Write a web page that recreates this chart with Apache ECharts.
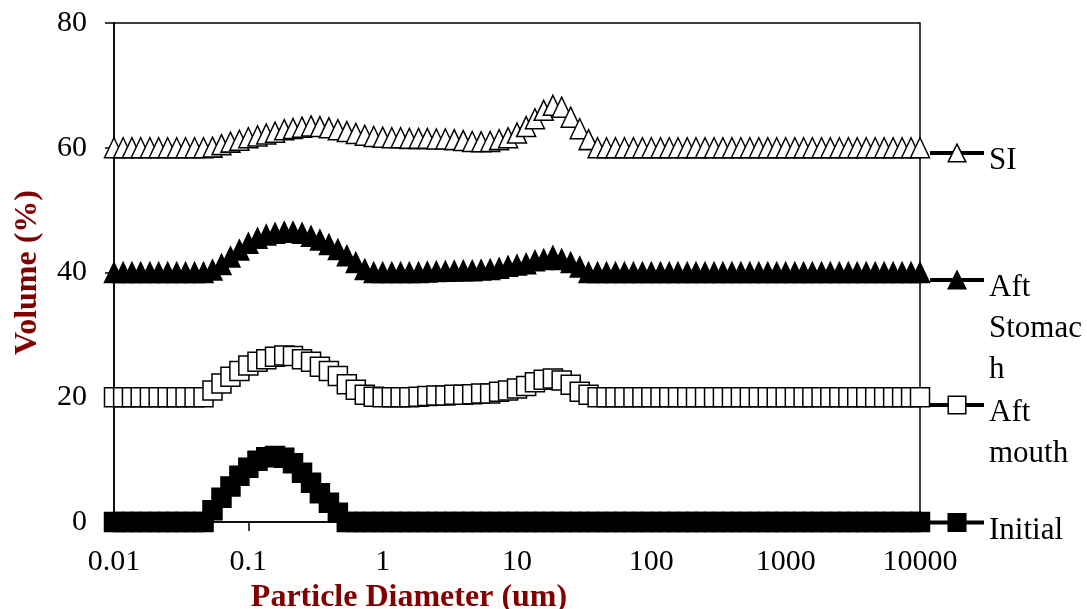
<!DOCTYPE html>
<html><head><meta charset="utf-8">
<script src="https://cdn.jsdelivr.net/npm/echarts@6/dist/echarts.min.js"></script>
<style>html,body{margin:0;padding:0;background:#fff}#c{width:1087px;height:609px}</style>
</head><body><div id="c"></div>
<script>
// Particle diameter bins (um), 15 per decade
const diameters = [
  0.01,0.0117,0.0136,0.0158,0.0185,0.0215,0.0251,0.0293,0.0341,0.0398,0.0464,0.0541,0.0631,0.0736,0.0858,
  0.1,0.117,0.136,0.158,0.185,0.215,0.251,0.293,0.341,0.398,0.464,0.541,0.631,0.736,0.858,
  1,1.17,1.36,1.58,1.85,2.15,2.51,2.93,3.41,3.98,4.64,5.41,6.31,7.36,8.58,
  10,11.7,13.6,15.8,18.5,21.5,25.1,29.3,34.1,39.8,46.4,54.1,63.1,73.6,85.8,
  100,117,136,158,185,215,251,293,341,398,464,541,631,736,858,
  1000,1170,1360,1580,1850,2150,2510,2930,3410,3980,4640,5410,6310,7360,8580,
  10000
];
// Volume (%) as plotted
const initialVol = [
  0,0,0,0,0,0,0,0,0,0,0,1.9,3.9,5.7,7.4,
  8.7,9.8,10.4,10.6,10.3,9.4,7.9,6.3,4.6,3.1,1.5,0,0,0,0,
  0,0,0,0,0,0,0,0,0,0,0,0,0,0,0,
  0,0,0,0,0,0,0,0,0,0,0,0,0,0,0,
  0,0,0,0,0,0,0,0,0,0,0,0,0,0,0,
  0,0,0,0,0,0,0,0,0,0,0,0,0,0,0,
  0
];
const aftMouthVol = [
  20,20,20,20,20,20,20,20,20,20,20,21.1,22.2,23.3,24.2,
  25.1,25.7,26.1,26.5,26.7,26.6,26.1,25.7,24.9,24.2,23.4,22.1,21.2,20.4,20.1,
  20,20,20,20,20.1,20.2,20.3,20.3,20.4,20.4,20.5,20.6,20.6,20.9,21.1,
  21.4,21.8,22.4,22.8,23.0,22.7,22.0,20.9,20.4,20,20,20,20,20,20,
  20,20,20,20,20,20,20,20,20,20,20,20,20,20,20,
  20,20,20,20,20,20,20,20,20,20,20,20,20,20,20,
  20
];
const aftStomachVol = [
  40,40,40,40,40,40,40,40,40,40,40,40.4,41.3,42.5,43.6,
  44.7,45.5,46.0,46.3,46.5,46.5,46.3,45.8,45.2,44.5,43.7,42.7,41.6,40.5,40,
  40,40,40,40,40,40.1,40.15,40.2,40.25,40.3,40.3,40.4,40.5,40.7,41.0,
  41.2,41.4,41.9,42.1,42.6,42.1,41.6,40.9,40,40,40,40,40,40,40,
  40,40,40,40,40,40,40,40,40,40,40,40,40,40,40,
  40,40,40,40,40,40,40,40,40,40,40,40,40,40,40,
  40
];
const siVol = [
  60,60,60,60,60,60,60,60,60,60,60,60.1,60.5,60.9,61.2,
  61.6,61.9,62.2,62.5,62.9,63.1,63.3,63.5,63.4,63.2,62.9,62.6,62.3,62.0,61.8,
  61.7,61.6,61.6,61.5,61.5,61.5,61.4,61.4,61.3,61.15,61.0,60.95,61.0,61.3,61.6,
  62.35,63.4,64.65,66.0,66.8,66.5,64.9,63.05,61.3,60,60,60,60,60,60,
  60,60,60,60,60,60,60,60,60,60,60,60,60,60,60,
  60,60,60,60,60,60,60,60,60,60,60,60,60,60,60,
  60
];
const seriesNames = ['Initial', 'Aft mouth', 'Aft Stomach', 'SI'];
// legend text as wrapped in the reference
const legendLines = {
  'Initial': ['Initial'],
  'Aft mouth': ['Aft', 'mouth'],
  'Aft Stomach': ['Aft', 'Stomac', 'h'],
  'SI': ['SI']
};
const xTickLabels = ['0.01','0.1','1','10','100','1000','10000'];
const yTickLabels = ['0','20','40','60','80'];

const FONT = 'Liberation Serif';
const TITLE_RED = '#800000';
const LEG_LH = 41;
const valuesByName = {
  'Initial': initialVol, 'Aft mouth': aftMouthVol, 'Aft Stomach': aftStomachVol, 'SI': siVol
};
const styleByName = {
  'Initial':     {symbol: 'rect',     size: 19,       fill: '#000', iconY: 522.5},
  'Aft mouth':   {symbol: 'rect',     size: 19,       fill: '#fff', iconY: 405},
  'Aft Stomach': {symbol: 'triangle', size: [19, 20], fill: '#000', iconY: 280},
  'SI':          {symbol: 'triangle', size: [19, 20], fill: '#fff', iconY: 153}
};

const series = seriesNames.map(name => {
  const st = styleByName[name];
  const vals = valuesByName[name];
  return {
    name: name,
    type: 'line',
    data: diameters.map((d, i) => [d, vals[i]]),
    symbol: st.symbol,
    symbolSize: st.size,
    showSymbol: true,
    clip: false,
    animation: false,
    lineStyle: {color: '#000', width: 3},
    itemStyle: {color: st.fill, borderColor: '#000', borderWidth: 1.5},
    emphasis: {disabled: true}
  };
});

// Legend: a spacer line above the text so the first text line sits just below the icon
const legends = seriesNames.map(name => {
  const st = styleByName[name];
  const lines = legendLines[name];
  const n = lines.length;
  const spacer = 16 + (n - 1) * LEG_LH;
  const block = spacer + n * LEG_LH;
  return {
    data: [name],
    left: 928,
    top: st.iconY - block / 2,
    padding: 0,
    orient: 'vertical',
    itemWidth: 54,
    itemHeight: 22,
    selectedMode: false,
    itemStyle: {borderWidth: 1.5, borderColor: '#000'},
    lineStyle: {width: 4, color: '#000'},
    formatter: () => '{sp| }\n' + lines.map(l => '{t|' + l + '}').join('\n'),
    textStyle: {
      fontFamily: FONT, fontSize: 31, color: '#000',
      rich: {
        sp: {fontSize: 1, lineHeight: spacer, height: spacer},
        t: {fontFamily: FONT, fontSize: 31, color: '#000', lineHeight: LEG_LH}
      }
    }
  };
});

const chart = echarts.init(document.getElementById('c'), null, {renderer: 'canvas'});
chart.setOption({
  backgroundColor: '#fff',
  animation: false,
  grid: {left: 114, right: 167, top: 23, bottom: 87, show: true, borderColor: '#000', borderWidth: 1.5,
         containLabel: false, outerBoundsMode: 'none'},
  legend: legends,
  xAxis: {
    type: 'log', logBase: 10, min: 0.01, max: 10000, splitNumber: 6,
    name: 'Particle Diameter (um)', nameLocation: 'middle', nameGap: 56,
    nameTextStyle: {fontFamily: FONT, fontWeight: 'bold', fontSize: 32, color: TITLE_RED, padding: [0, 216, 0, 0]},
    axisLine: {show: true, onZero: false, lineStyle: {color: '#000', width: 1.5}},
    axisTick: {show: true, inside: false, length: 9, lineStyle: {color: '#000', width: 1.5}},
    minorTick: {show: false},
    splitLine: {show: false},
    axisLabel: {
      fontFamily: FONT, fontSize: 30, color: '#000', margin: 25,
      formatter: v => xTickLabels[Math.round(Math.log10(v)) + 2]
    }
  },
  yAxis: {
    type: 'value', min: 0, max: 80, interval: 20,
    name: 'Volume (%)', nameLocation: 'middle', nameGap: 70, nameRotate: 90,
    nameTextStyle: {fontFamily: FONT, fontWeight: 'bold', fontSize: 32, color: TITLE_RED},
    axisLine: {show: true, lineStyle: {color: '#000', width: 1.5}},
    axisTick: {show: true, inside: false, length: 9, lineStyle: {color: '#000', width: 1.5}},
    splitLine: {show: false},
    axisLabel: {
      fontFamily: FONT, fontSize: 30, color: '#000', margin: 27,
      formatter: v => yTickLabels[Math.round(v / 20)]
    }
  },
  series: series
});
</script>
</body></html>
